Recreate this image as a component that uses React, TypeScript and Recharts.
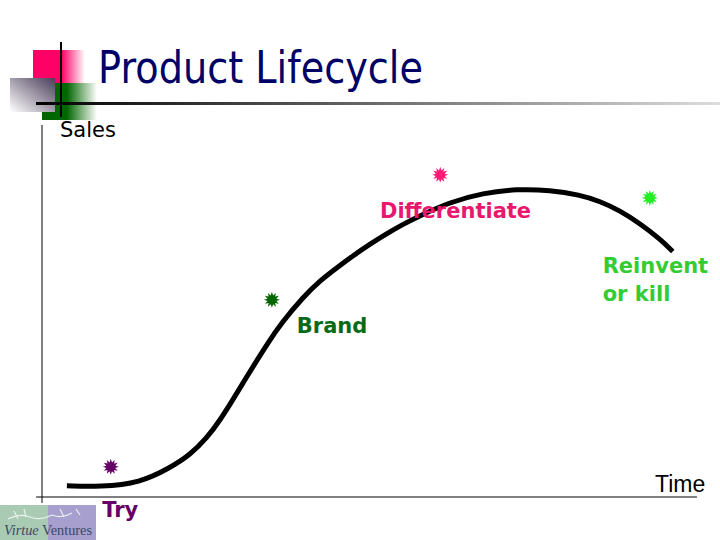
import React from "react";
import { ComposedChart, Line, Scatter, XAxis, YAxis, ReferenceLine, ReferenceDot } from "recharts";

// lifecycle curve (time 0-100, sales 0-100)
const curveTime = [3.8, 8.9, 15.0, 19.5, 22.6, 25.2, 27.2, 29.2, 30.7, 32.2, 34.4, 36.6, 39.9, 42.4, 45.0, 47.5, 50.1, 52.7, 55.1, 57.3, 62.3, 67.3, 72.5, 77.6, 82.1, 85.2, 88.2, 91.3, 94.4, 96.3];
const curveSales = [3.0, 2.7, 3.8, 7.8, 11.3, 15.9, 20.7, 26.3, 30.7, 35.0, 41.2, 46.9, 53.8, 58.1, 61.6, 64.9, 68.0, 70.9, 73.3, 75.3, 79.3, 81.7, 82.8, 82.5, 81.2, 79.5, 77.0, 73.5, 69.3, 66.0];

// stages: star marker + label anchor
const stages = ["Try", "Brand", "Differentiate", "Reinvent or kill"];
const starTime = [10.5, 35.1, 60.8, 92.8];
const starSales = [8.1, 53.0, 86.6, 80.4];
const labelTime = [9.2, 38.9, 51.6, 85.6];
const labelSales = [-5.4, 44.1, 75.0, 60.2];
const labelLines = [["Try"], ["Brand"], ["Differentiate"], ["Reinvent", "or kill"]];

const stageColor: Record<string, string> = {
  Try: "#660066",
  Brand: "#0a6a14",
  Differentiate: "#e8186e",
  "Reinvent or kill": "#33cc33"
};
const starColor: Record<string, string> = {
  Try: "#660066",
  Brand: "#006600",
  Differentiate: "#ff1a75",
  "Reinvent or kill": "#22ee22"
};

const curveData = curveTime.map((t, i) => ({ t, sales: curveSales[i] }));
const starData = stages.map((s, i) => ({ stage: s, t: starTime[i], sales: starSales[i] }));

function Star(props: any) {
  const { cx, cy, payload } = props;
  const pts: string[] = [];
  const n = 12;
  for (let k = 0; k < n * 2; k++) {
    const r = k % 2 === 0 ? 8 : 4.6;
    const a = (Math.PI * k) / n - Math.PI / 2;
    pts.push(`${cx + r * Math.cos(a)},${cy + r * Math.sin(a)}`);
  }
  return <polygon points={pts.join(" ")} fill={starColor[payload.stage]} />;
}

function StageLabel({ cx, cy, stage, lines }: any) {
  return (
    <text
      x={cx}
      y={cy}
      fill={stageColor[stage]}
      fontFamily="Tahoma, 'DejaVu Sans', sans-serif"
      fontWeight="bold"
      fontSize={21}
    >
      {lines.map((l: string, i: number) => (
        <tspan key={l} x={cx} dy={i === 0 ? 0 : 28}>
          {l}
        </tspan>
      ))}
    </text>
  );
}

function Decor() {
  return (
    <svg width={720} height={540} style={{ position: "absolute", left: 0, top: 0 }}>
      <defs>
        <linearGradient id="pinkFade" x1="0" y1="0" x2="1" y2="0">
          <stop offset="0%" stopColor="#ff0066" />
          <stop offset="55%" stopColor="#ff0066" />
          <stop offset="100%" stopColor="#ff0066" stopOpacity={0} />
        </linearGradient>
        <linearGradient id="greenFade" x1="0" y1="0" x2="1" y2="0">
          <stop offset="0%" stopColor="#006600" />
          <stop offset="45%" stopColor="#006600" />
          <stop offset="100%" stopColor="#006600" stopOpacity={0} />
        </linearGradient>
        <linearGradient id="greyFade" x1="1" y1="0" x2="0" y2="1">
          <stop offset="0%" stopColor="#4a3d5a" />
          <stop offset="100%" stopColor="#ffffff" />
        </linearGradient>
        <linearGradient id="ruleFade" x1="0" y1="0" x2="1" y2="0">
          <stop offset="0%" stopColor="#000000" />
          <stop offset="40%" stopColor="#555555" />
          <stop offset="100%" stopColor="#dddddd" />
        </linearGradient>
      </defs>
      <rect x={33} y={50} width={52} height={33} fill="url(#pinkFade)" />
      <rect x={42} y={83} width={55} height={37} fill="url(#greenFade)" />
      <rect x={10} y={78} width={45} height={34} fill="url(#greyFade)" />
      <rect x={36} y={102} width={684} height={3} fill="url(#ruleFade)" />
      <line x1={61} y1={42} x2={61} y2={117} stroke="#000" strokeWidth={2} />
      <text
        x={98}
        y={83}
        fill="#000066"
        fontFamily="Tahoma, 'DejaVu Sans', sans-serif"
        fontSize={44}
        textLength={325}
        lengthAdjust="spacingAndGlyphs"
      >
        Product Lifecycle
      </text>
      <text x={60} y={137} fill="#000" fontFamily="Tahoma, 'DejaVu Sans', sans-serif" fontSize={21}>
        Sales
      </text>
      <text x={655} y={492} fill="#000" fontFamily="'Liberation Sans', Arial, sans-serif" fontSize={23}>
        Time
      </text>
    </svg>
  );
}

function Logo() {
  return (
    <svg width={96} height={35} style={{ position: "absolute", left: 0, top: 505 }}>
      <rect x={0} y={0} width={48} height={35} fill="#a9cbb4" />
      <rect x={48} y={0} width={48} height={35} fill="#a79fcd" />
      <path d="M8 14 Q20 8 30 12 T52 10 Q62 14 72 8 M14 6 L18 14 M24 4 L26 12 M60 4 L64 12 M76 4 L80 10" stroke="#e8f0ee" strokeWidth={1.2} fill="none" />
      <text x={4} y={30} fontFamily="'Liberation Serif', 'DejaVu Serif', serif" fontSize={15} fill="#3b4866" textLength={88} lengthAdjust="spacingAndGlyphs">
        <tspan fontStyle="italic">Virtue</tspan> Ventures
      </text>
    </svg>
  );
}

export default function App() {
  return (
    <div style={{ position: "absolute", left: 0, top: 0, width: 720, height: 540, background: "#fff", overflow: "hidden" }}>
      <Decor />
      <Logo />
      <div style={{ position: "absolute", left: 0, top: 0 }}>
        <ComposedChart width={720} height={540} margin={{ top: 125, right: 23, bottom: 43, left: 42 }}>
          <XAxis type="number" dataKey="t" domain={[0, 100]} hide />
          <YAxis type="number" dataKey="sales" domain={[0, 100]} hide />
          <ReferenceLine
            segment={[{ x: 0, y: -1.6 }, { x: 0, y: 100 }]}
            stroke="#000"
            strokeWidth={1}
            ifOverflow="visible"
          />
          <ReferenceLine
            segment={[{ x: -0.9, y: 0 }, { x: 100, y: 0 }]}
            stroke="#000"
            strokeWidth={1}
            ifOverflow="visible"
          />
          <Line
            data={curveData}
            dataKey="sales"
            type="basis"
            stroke="#000"
            strokeWidth={5}
            dot={false}
            activeDot={false}
            isAnimationActive={false}
          />
          <Scatter data={starData} dataKey="sales" shape={<Star />} isAnimationActive={false} />
          {stages.map((s, i) => (
            <ReferenceDot
              key={s}
              x={labelTime[i]}
              y={labelSales[i]}
              r={0}
              ifOverflow="visible"
              shape={(p: any) => <StageLabel cx={p.cx} cy={p.cy} stage={s} lines={labelLines[i]} />}
            />
          ))}
        </ComposedChart>
      </div>
    </div>
  );
}
